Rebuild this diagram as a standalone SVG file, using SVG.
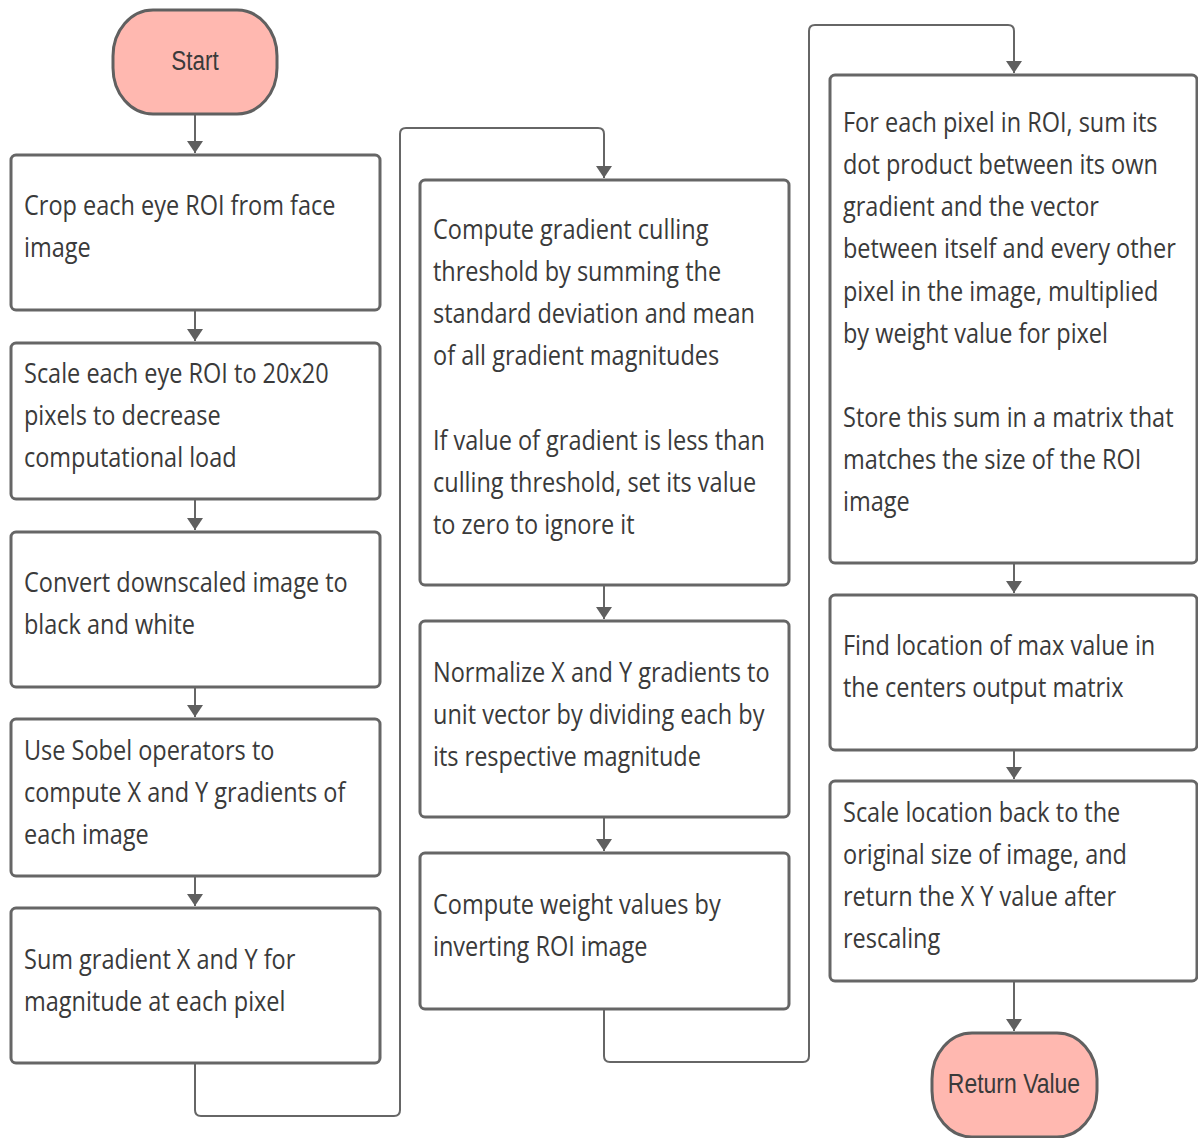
<svg xmlns="http://www.w3.org/2000/svg" width="1198" height="1138" viewBox="0 0 1198 1138">
  <defs>
    <marker id="arrow" viewBox="0 0 12 16" refX="12" refY="8" markerWidth="12" markerHeight="16" markerUnits="userSpaceOnUse" orient="auto">
      <path d="M0,0 L12,8 L0,16 Z" fill="#5f5f5f"/>
    </marker>
  </defs>
  <style>
    .box { fill: #ffffff; stroke: #666666; stroke-width: 3; }
    .term { fill: #ffb8b0; stroke: #606060; stroke-width: 3; }
    .edge { fill: none; stroke: #666666; stroke-width: 2; }
    .t { font-family: "Open Sans", "DejaVu Sans", sans-serif; font-size: 27px; fill: #3a3a3a; }
    .tt { font-family: "Liberation Sans", Arial, sans-serif; font-size: 28px; fill: #3a3a3a; text-anchor: middle; }
  </style>
  <rect width="1198" height="1138" fill="#ffffff"/>

  <!-- connectors -->
  <g id="connectors">
    <path class="edge" d="M195,114 V153" marker-end="url(#arrow)"/>
    <path class="edge" d="M195,310 V341" marker-end="url(#arrow)"/>
    <path class="edge" d="M195,499 V530" marker-end="url(#arrow)"/>
    <path class="edge" d="M195,687 V717" marker-end="url(#arrow)"/>
    <path class="edge" d="M195,876 V906" marker-end="url(#arrow)"/>
    <path class="edge" d="M195,1063 V1110 Q195,1116 201,1116 H394 Q400,1116 400,1110 V134 Q400,128 406,128 H598 Q604,128 604,134 V178" marker-end="url(#arrow)"/>
    <path class="edge" d="M604,585 V619" marker-end="url(#arrow)"/>
    <path class="edge" d="M604,817 V851" marker-end="url(#arrow)"/>
    <path class="edge" d="M604,1009 V1056 Q604,1062 610,1062 H803 Q809,1062 809,1056 V31 Q809,25 815,25 H1008 Q1014,25 1014,31 V73" marker-end="url(#arrow)"/>
    <path class="edge" d="M1014,563 V593" marker-end="url(#arrow)"/>
    <path class="edge" d="M1014,750 V779" marker-end="url(#arrow)"/>
    <path class="edge" d="M1014,981 V1031" marker-end="url(#arrow)"/>
  </g>

  <!-- terminals -->
  <g id="start">
    <rect class="term" x="113" y="10" width="164" height="104" rx="40" ry="46"/>
    <text class="tt" transform="translate(195,70) scale(0.8,1)">Start</text>
  </g>
  <g id="return-value">
    <rect class="term" x="932" y="1033" width="165" height="104" rx="40" ry="46"/>
    <text class="tt" transform="translate(1014,1093) scale(0.82,1)">Return Value</text>
  </g>

  <!-- column 1 -->
  <g id="crop-roi">
    <rect class="box" x="11" y="155" width="369" height="155" rx="5"/>
    <g transform="translate(24,0) scale(0.87,1)">
      <text class="t" x="0" y="215">Crop each eye ROI from face</text>
      <text class="t" x="0" y="257">image</text>
    </g>
  </g>
  <g id="scale-roi">
    <rect class="box" x="11" y="343" width="369" height="156" rx="5"/>
    <g transform="translate(24,0) scale(0.87,1)">
      <text class="t" x="0" y="383">Scale each eye ROI to 20x20</text>
      <text class="t" x="0" y="425">pixels to decrease</text>
      <text class="t" x="0" y="467">computational load</text>
    </g>
  </g>
  <g id="to-bw">
    <rect class="box" x="11" y="532" width="369" height="155" rx="5"/>
    <g transform="translate(24,0) scale(0.87,1)">
      <text class="t" x="0" y="592">Convert downscaled image to</text>
      <text class="t" x="0" y="634">black and white</text>
    </g>
  </g>
  <g id="sobel">
    <rect class="box" x="11" y="719" width="369" height="157" rx="5"/>
    <g transform="translate(24,0) scale(0.87,1)">
      <text class="t" x="0" y="760">Use Sobel operators to</text>
      <text class="t" x="0" y="802">compute X and Y gradients of</text>
      <text class="t" x="0" y="844">each image</text>
    </g>
  </g>
  <g id="magnitude">
    <rect class="box" x="11" y="908" width="369" height="155" rx="5"/>
    <g transform="translate(24,0) scale(0.87,1)">
      <text class="t" x="0" y="969">Sum gradient X and Y for</text>
      <text class="t" x="0" y="1011">magnitude at each pixel</text>
    </g>
  </g>

  <!-- column 2 -->
  <g id="culling">
    <rect class="box" x="420" y="180" width="369" height="405" rx="5"/>
    <g transform="translate(433,0) scale(0.87,1)">
      <text class="t" x="0" y="239">Compute gradient culling</text>
      <text class="t" x="0" y="281">threshold by summing the</text>
      <text class="t" x="0" y="323">standard deviation and mean</text>
      <text class="t" x="0" y="365">of all gradient magnitudes</text>
      <text class="t" x="0" y="450">If value of gradient is less than</text>
      <text class="t" x="0" y="492">culling threshold, set its value</text>
      <text class="t" x="0" y="534">to zero to ignore it</text>
    </g>
  </g>
  <g id="normalize">
    <rect class="box" x="420" y="621" width="369" height="196" rx="5"/>
    <g transform="translate(433,0) scale(0.87,1)">
      <text class="t" x="0" y="682">Normalize X and Y gradients to</text>
      <text class="t" x="0" y="724">unit vector by dividing each by</text>
      <text class="t" x="0" y="766">its respective magnitude</text>
    </g>
  </g>
  <g id="weights">
    <rect class="box" x="420" y="853" width="369" height="156" rx="5"/>
    <g transform="translate(433,0) scale(0.87,1)">
      <text class="t" x="0" y="914">Compute weight values by</text>
      <text class="t" x="0" y="956">inverting ROI image</text>
    </g>
  </g>

  <!-- column 3 -->
  <g id="dot-sum">
    <rect class="box" x="830" y="75" width="367" height="488" rx="5"/>
    <g transform="translate(843,0) scale(0.87,1)">
      <text class="t" x="0" y="132">For each pixel in ROI, sum its</text>
      <text class="t" x="0" y="174">dot product between its own</text>
      <text class="t" x="0" y="216">gradient and the vector</text>
      <text class="t" x="0" y="258">between itself and every other</text>
      <text class="t" x="0" y="301">pixel in the image, multiplied</text>
      <text class="t" x="0" y="343">by weight value for pixel</text>
      <text class="t" x="0" y="427">Store this sum in a matrix that</text>
      <text class="t" x="0" y="469">matches the size of the ROI</text>
      <text class="t" x="0" y="511">image</text>
    </g>
  </g>
  <g id="find-max">
    <rect class="box" x="830" y="595" width="367" height="155" rx="5"/>
    <g transform="translate(843,0) scale(0.87,1)">
      <text class="t" x="0" y="655">Find location of max value in</text>
      <text class="t" x="0" y="697">the centers output matrix</text>
    </g>
  </g>
  <g id="rescale">
    <rect class="box" x="830" y="781" width="367" height="200" rx="5"/>
    <g transform="translate(843,0) scale(0.87,1)">
      <text class="t" x="0" y="822">Scale location back to the</text>
      <text class="t" x="0" y="864">original size of image, and</text>
      <text class="t" x="0" y="906">return the X Y value after</text>
      <text class="t" x="0" y="948">rescaling</text>
    </g>
  </g>
</svg>
